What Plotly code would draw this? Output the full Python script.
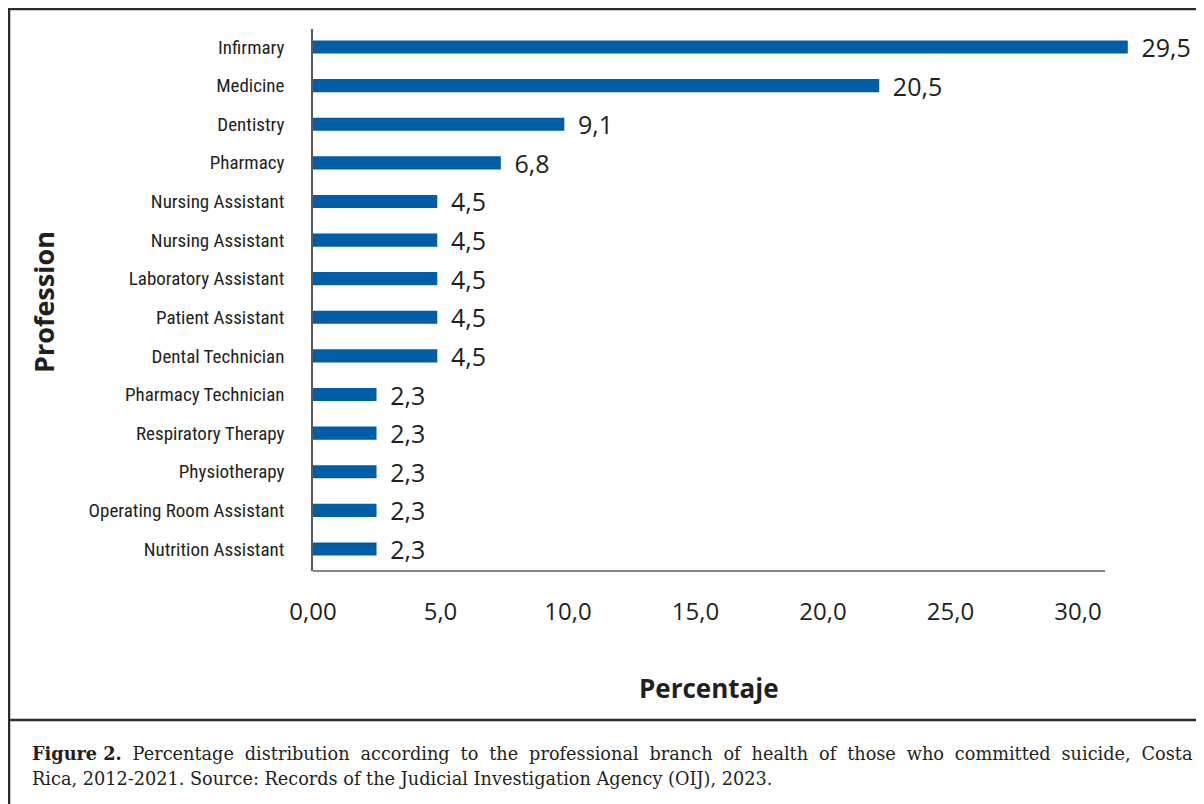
import plotly.graph_objects as go

categories = [
    "Infirmary", "Medicine", "Dentistry", "Pharmacy", "Nursing Assistant",
    "Nursing Assistant", "Laboratory Assistant", "Patient Assistant",
    "Dental Technician", "Pharmacy Technician", "Respiratory Therapy",
    "Physiotherapy", "Operating Room Assistant", "Nutrition Assistant",
]
values = [29.5, 20.5, 9.1, 6.8, 4.5, 4.5, 4.5, 4.5, 4.5, 2.3, 2.3, 2.3, 2.3, 2.3]
x_tick_values = [0, 5, 10, 15, 20, 25, 30]
x_tick_labels = ["0,00", "5,0", "10,0", "15,0", "20,0", "25,0", "30,0"]

caption_line1 = "Percentage distribution according to the professional branch of health of those who committed suicide, Costa"
caption_line2 = "Rica, 2012-2021. Source: Records of the Judicial Investigation Agency (OIJ), 2023."

# the page body adds an 8px offset; work in screen coordinates and compensate
OFF = 8
W, H = 1204 - OFF, 804 - OFF
PLOT_L, PLOT_R, PLOT_T, PLOT_B = 313, 1196, 29, 571   # screen coords
AXIS_END = 1105
L = PLOT_L - OFF
R = W - (PLOT_R - OFF)
T = PLOT_T - OFF
B = H - (PLOT_B - OFF)
PW = PLOT_R - PLOT_L
PH = PLOT_B - PLOT_T


def px(x):
    return (x - PLOT_L) / PW


def py(y):
    return (PLOT_B - y) / PH


positions = list(range(len(categories)))
labels = ["\u00a0\u2009" + f"{v:.1f}".replace(".", ",") for v in values]

INK = "#231f20"
AXIS = "#5a5a5a"

fig = go.Figure()
fig.add_trace(go.Bar(
    x=values, y=positions, orientation="h",
    width=0.34,
    marker=dict(color="#005ea6", line=dict(width=0)),
    text=labels, textposition="outside",
    textfont=dict(family="Open Sans", size=25, color=INK),
    cliponaxis=False, constraintext="none",
    hoverinfo="skip", showlegend=False,
))
fig.add_trace(go.Scatter(
    x=[None], y=[None], xaxis="x2", yaxis="y",
    showlegend=False, hoverinfo="skip",
))

fig.update_layout(
    width=W, height=H,
    margin=dict(l=L, r=R, t=T, b=B, pad=0),
    paper_bgcolor="white", plot_bgcolor="white",
    xaxis=dict(
        range=[0, PW / 27.62], showgrid=False, zeroline=False,
        showline=False, showticklabels=False, ticks="",
    ),
    xaxis2=dict(
        overlaying="x", side="bottom", anchor="y",
        range=[0, PW / 25.5], showgrid=False, zeroline=False,
        showline=False, ticks="",
        tickmode="array", tickvals=x_tick_values, ticktext=x_tick_labels,
        tickfont=dict(family="Open Sans", size=24, color=INK),
        ticklabelstandoff=24,
    ),
    yaxis=dict(
        range=[13.57, -0.466], showgrid=False, zeroline=False,
        showline=True, linecolor=AXIS, linewidth=1.5, ticks="",
        tickmode="array", tickvals=positions, ticktext=categories,
        tickfont=dict(family="Liberation Sans Narrow, Roboto Condensed, Arial Narrow", size=19, color=INK),
        ticklabelstandoff=23,
    ),
)

shapes = [
    # x-axis baseline (ends before the longest bar, as in the source)
    dict(type="line", xref="paper", yref="paper", x0=0, x1=px(AXIS_END), y0=0, y1=0,
         line=dict(color=AXIS, width=1.5)),
    # outer frame: top and left
    dict(type="line", xref="paper", yref="paper", x0=px(9), x1=px(1215), y0=py(9), y1=py(9),
         line=dict(color="#2b2b2b", width=2.5)),
    dict(type="line", xref="paper", yref="paper", x0=px(9), x1=px(9), y0=py(8), y1=py(815),
         line=dict(color="#2b2b2b", width=2.5)),
    # separator above caption
    dict(type="line", xref="paper", yref="paper", x0=px(9), x1=px(1215), y0=py(720), y1=py(720),
         line=dict(color="#2b2b2b", width=2.5)),
]
fig.update_layout(shapes=shapes)

# widen word gaps of the first caption line to mimic the justified source text
justified_line1 = caption_line1.replace(" ", " \u2009\u200a")

annotations = [
    dict(text="<b>Percentaje</b>", xref="paper", yref="paper", x=px(709), y=py(688),
         xanchor="center", yanchor="middle", showarrow=False,
         font=dict(family="Open Sans", size=26, color=INK)),
    dict(text="<b>Profession</b>", xref="paper", yref="paper", x=px(43), y=py(302),
         xanchor="center", yanchor="middle", showarrow=False, textangle=-90,
         font=dict(family="Open Sans", size=27, color=INK)),
    dict(text="<b>Figure 2.</b> \u2009\u200a" + justified_line1,
         xref="paper", yref="paper", x=px(30), y=py(753),
         xanchor="left", yanchor="middle", showarrow=False,
         font=dict(family="DejaVu Serif", size=17.7, color=INK)),
    dict(text=caption_line2,
         xref="paper", yref="paper", x=px(30), y=py(779),
         xanchor="left", yanchor="middle", showarrow=False,
         font=dict(family="DejaVu Serif", size=17.7, color=INK)),
]
fig.update_layout(annotations=annotations)

fig.write_html("out.html")
